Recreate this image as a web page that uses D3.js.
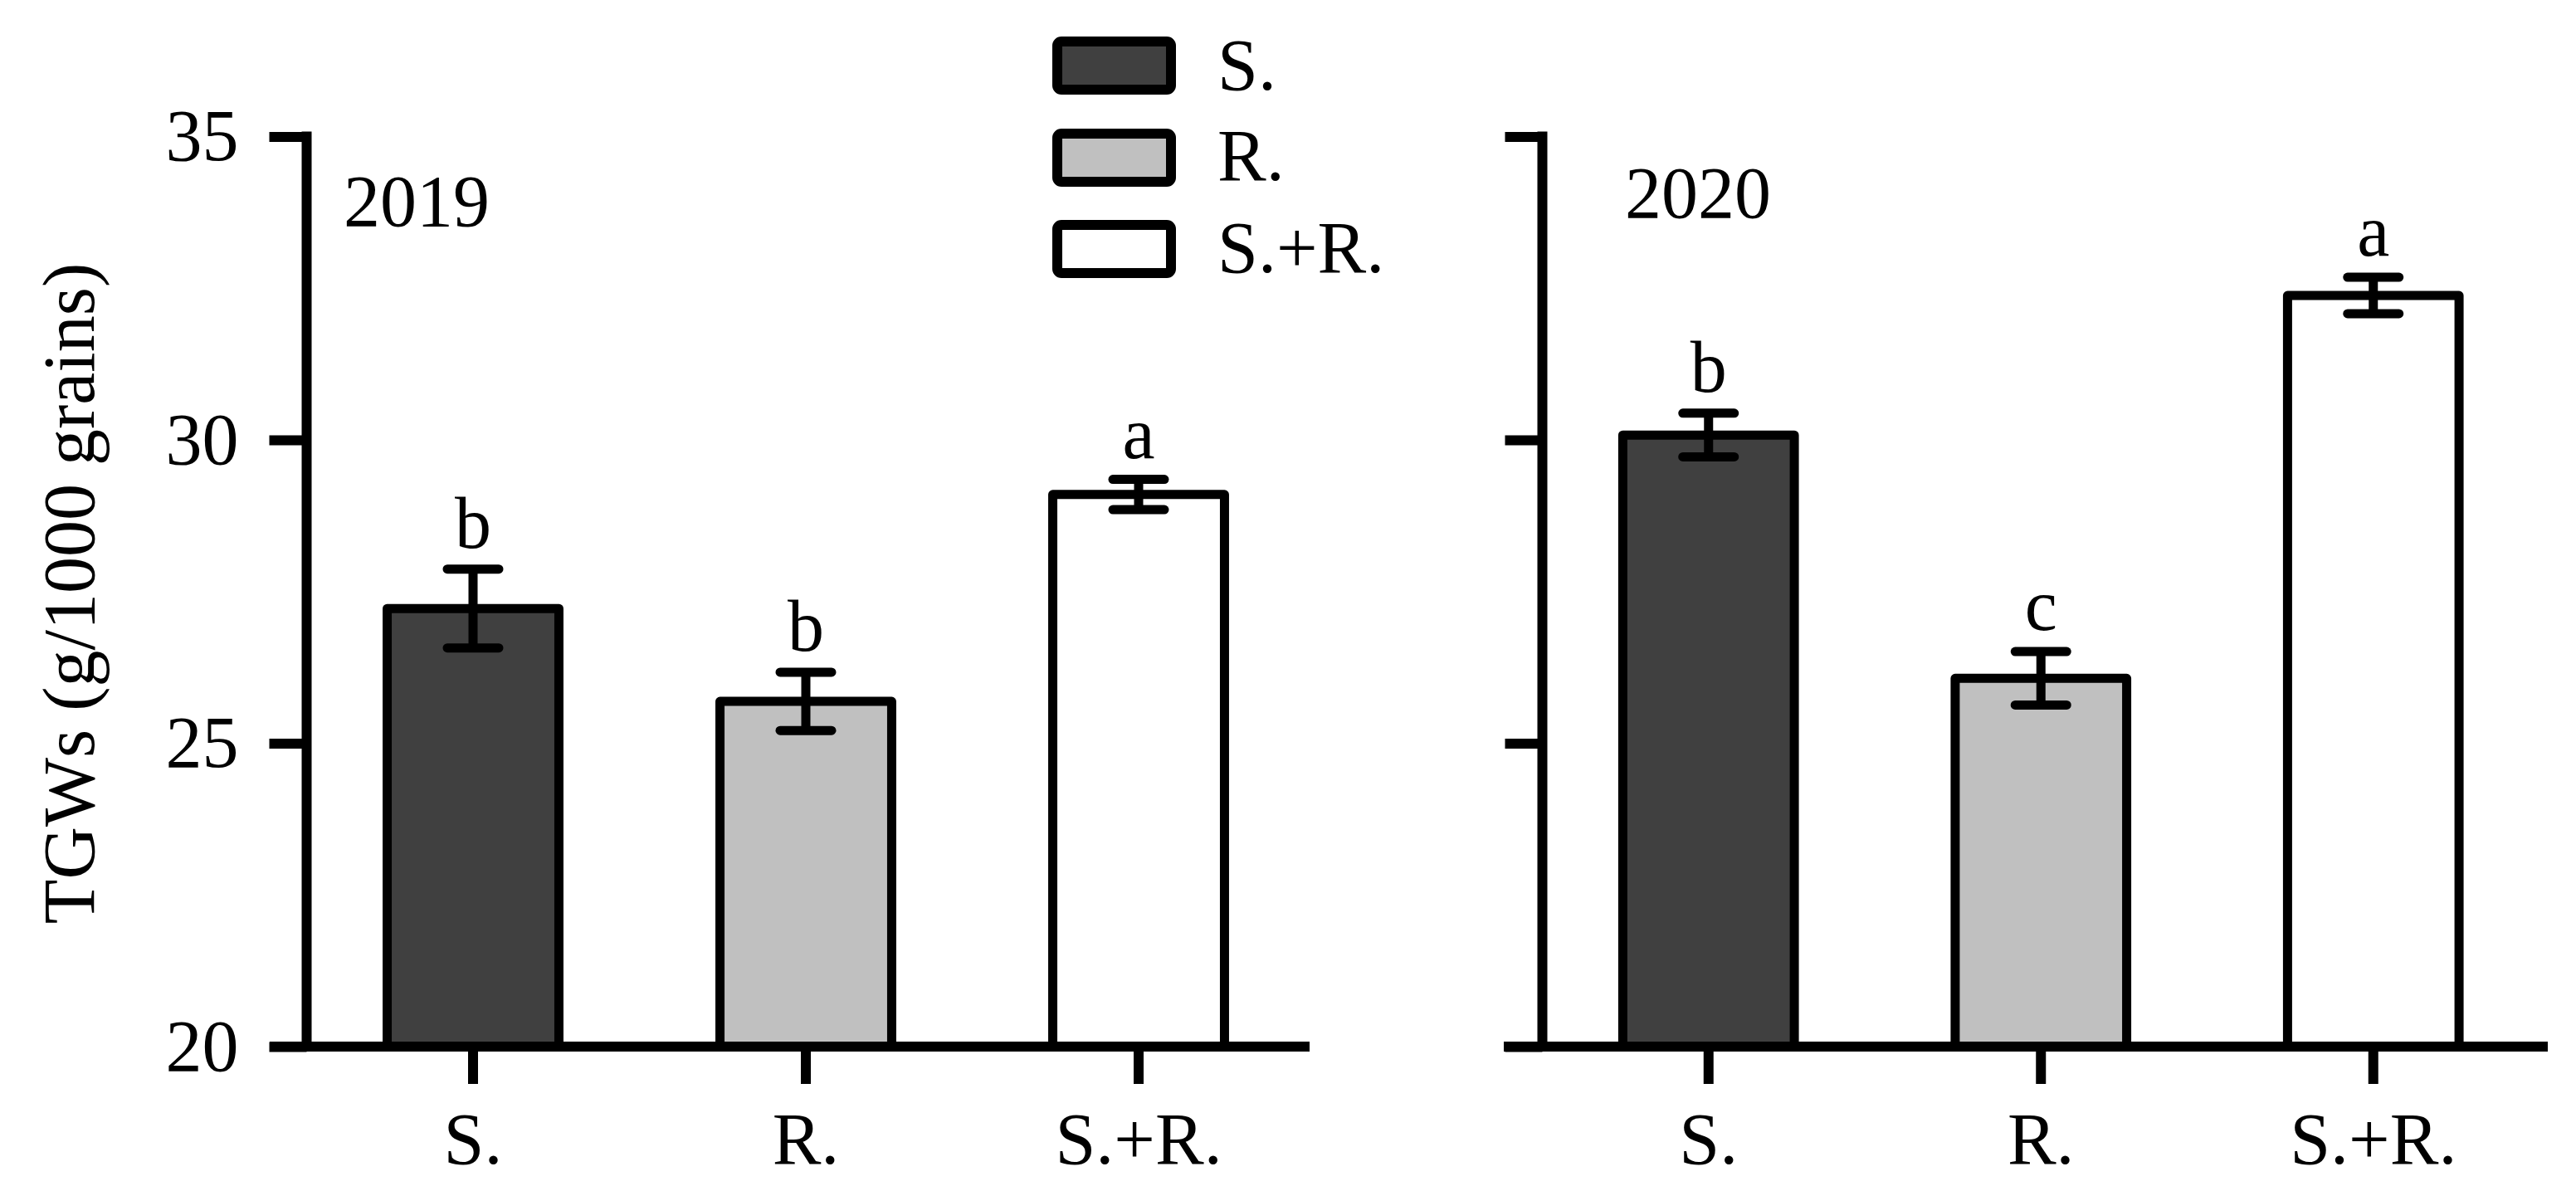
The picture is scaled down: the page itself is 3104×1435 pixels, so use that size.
<!DOCTYPE html>
<html>
<head>
<meta charset="utf-8">
<script src="https://cdn.jsdelivr.net/npm/d3@7"></script>
<style>
  html, body { margin: 0; padding: 0; background: #ffffff; }
  svg text { font-family: "Liberation Serif", "Times New Roman", serif; fill: #000; }
</style>
</head>
<body>
<svg id="chart" width="3104" height="1435"></svg>
<script>
// ---- data ----
const categories = ["S.", "R.", "S.+R."];
const years = ["2019", "2020"];
const means2019 = [27.22, 25.69, 29.10];
const se2019 = [0.65, 0.48, 0.25];
const letters2019 = ["b", "b", "a"];
const means2020 = [30.08, 26.07, 32.38];
const se2020 = [0.36, 0.44, 0.30];
const letters2020 = ["b", "c", "a"];
const fillColors = ["#404040", "#c0c0c0", "#ffffff"];
const yTicks = [20, 25, 30, 35];
const yTitle = "TGWs (g/1000 grains)";

// ---- layout ----
const svg = d3.select("#chart");
svg.append("rect").attr("width", 3104).attr("height", 1435).attr("fill", "#fff");

const y = d3.scaleLinear().domain([20, 35]).range([1261, 164.5]);
const color = d3.scaleOrdinal().domain(categories).range(fillColors);
const FS = 88;

const panels = [
  { year: years[0], means: means2019, se: se2019, letters: letters2019,
    axisX: 369.5, rangeEnd: 1572.5, baseStart: 325, baseEnd: 1578, labels: true,
    yearX: 414, yearY: 272 },
  { year: years[1], means: means2020, se: se2020, letters: letters2020,
    axisX: 1858.5, rangeEnd: 3060, baseStart: 1812, baseEnd: 3070, labels: false,
    yearX: 1958, yearY: 262 }
];

panels.forEach(p => {
  const x = d3.scaleBand().domain(categories)
    .range([p.axisX, p.rangeEnd]).paddingInner(0.484).paddingOuter(0.242);
  const g = svg.append("g");
  const bw = x.bandwidth();

  // bars
  g.selectAll("rect.bar").data(categories).enter().append("rect")
    .attr("class", "bar")
    .attr("x", d => x(d))
    .attr("width", bw)
    .attr("y", (d, i) => y(p.means[i]))
    .attr("height", (d, i) => y(20) - y(p.means[i]))
    .attr("fill", d => color(d))
    .attr("stroke", "#000").attr("stroke-width", 11)
    .attr("stroke-linejoin", "round");

  // error bars
  const capHalf = 31;
  categories.forEach((c, i) => {
    const cx = x(c) + bw / 2;
    const hi = y(p.means[i] + p.se[i]);
    const lo = y(p.means[i] - p.se[i]);
    g.append("line").attr("x1", cx).attr("x2", cx).attr("y1", hi).attr("y2", lo)
      .attr("stroke", "#000").attr("stroke-width", 11);
    [hi, lo].forEach(yy => {
      g.append("line").attr("x1", cx - capHalf).attr("x2", cx + capHalf)
        .attr("y1", yy).attr("y2", yy)
        .attr("stroke", "#000").attr("stroke-width", 11).attr("stroke-linecap", "round");
    });
    g.append("text").attr("x", cx).attr("y", hi - 26)
      .attr("text-anchor", "middle").attr("font-size", FS).text(p.letters[i]);
  });

  // baseline
  g.append("line").attr("x1", p.baseStart).attr("x2", p.baseEnd)
    .attr("y1", y(20)).attr("y2", y(20))
    .attr("stroke", "#000").attr("stroke-width", 12);

  // y axis
  const yAxis = d3.axisLeft(y).tickValues(yTicks).tickSize(45).tickSizeOuter(0)
    .tickFormat(p.labels ? d3.format("d") : () => "");
  const ya = svg.append("g").attr("transform", `translate(${p.axisX},0)`).call(yAxis);
  ya.select(".domain").attr("stroke", "#000").attr("stroke-width", 12)
    .attr("d", `M0,${y(20) + 6}V${y(35) - 6}`);
  ya.selectAll(".tick line").attr("stroke", "#000").attr("stroke-width", 12);
  ya.selectAll(".tick text").attr("x", -82).attr("font-size", FS)
    .attr("font-family", "Liberation Serif").attr("fill", "#000");

  // x axis
  const xAxis = d3.axisBottom(x).tickSize(45).tickSizeOuter(0);
  const xa = svg.append("g").attr("transform", `translate(0,${y(20)})`).call(xAxis);
  xa.select(".domain").remove();
  xa.selectAll(".tick line").attr("stroke", "#000").attr("stroke-width", 12);
  xa.selectAll(".tick text").attr("y", 141).attr("dy", 0).attr("font-size", FS)
    .attr("font-family", "Liberation Serif").attr("fill", "#000");

  // year label
  svg.append("text").attr("x", p.yearX).attr("y", p.yearY)
    .attr("font-size", FS).text(p.year);
});

// y title
svg.append("text")
  .attr("transform", "translate(113,715) rotate(-90)")
  .attr("text-anchor", "middle").attr("font-size", FS).text(yTitle);

// legend
const legendY = [50, 161, 271];
const legendBaselines = [108, 217, 328];
const lg = svg.append("g");
categories.forEach((c, i) => {
  lg.append("rect").attr("x", 1274).attr("y", legendY[i]).attr("width", 137).attr("height", 58)
    .attr("rx", 5).attr("fill", color(c)).attr("stroke", "#000").attr("stroke-width", 12);
  lg.append("text").attr("x", 1467).attr("y", legendBaselines[i])
    .attr("font-size", FS).text(c);
});
</script>
</body>
</html>
